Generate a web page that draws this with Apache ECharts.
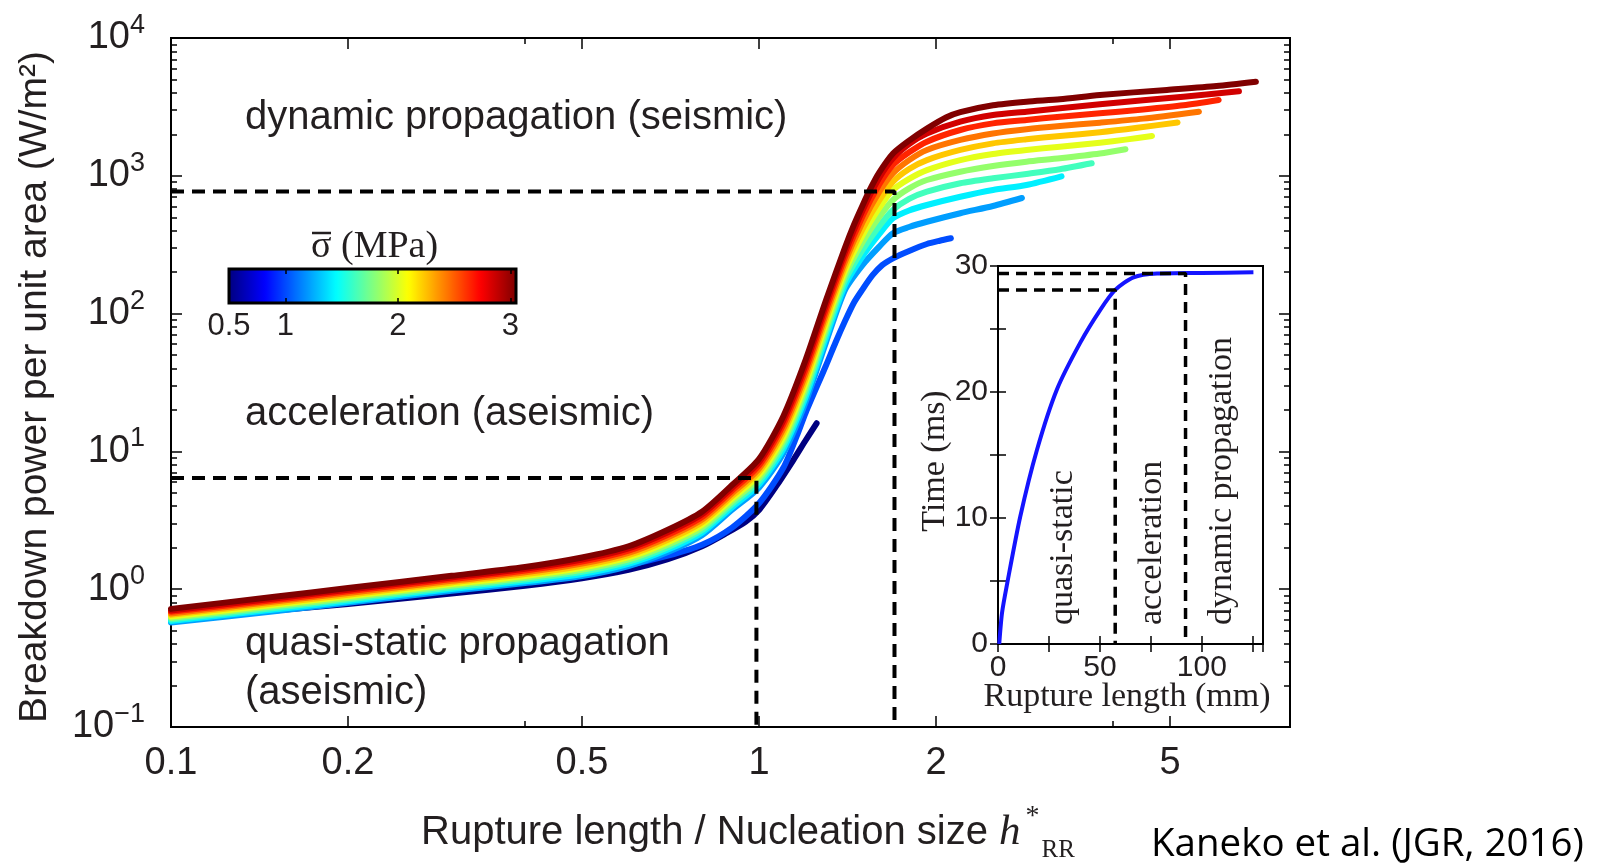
<!DOCTYPE html>
<html>
<head>
<meta charset="utf-8">
<script src="https://cdn.jsdelivr.net/npm/echarts@6/dist/echarts.min.js"></script>
<style>
  html, body { margin: 0; padding: 0; background: #fff; }
  #chart { width: 1597px; height: 865px; }
</style>
</head>
<body>
<div id="chart"></div>
<script>
// mean normal stress of each run (MPa), same order as the curves below
const sigmas = [0.5, 1.0, 1.2, 1.4, 1.6, 1.8, 2.0, 2.2, 2.4, 2.6, 2.8, 3.0];

// [rupture length / h*, breakdown power (W/m2)]
const s050 = [[0.1,0.6],[0.15,0.7],[0.2,0.78],[0.3,0.93],[0.4,1.06],[0.5,1.2],[0.6,1.38],[0.7,1.65],[0.8,2.05],[0.88,2.55],[0.95,3.1],[1.0,3.76],[1.07,5.6],[1.144,8.66],[1.2,12],[1.253,16]];
const s100 = [[0.1,0.62],[0.15,0.76],[0.2,0.87],[0.3,1.06],[0.4,1.2],[0.5,1.33],[0.6,1.5],[0.7,1.75],[0.8,2.1],[0.9,2.8],[1.0,4.2],[1.1,7.6],[1.16,13],[1.2,19],[1.3,42],[1.35,62],[1.4,88],[1.45,120],[1.5,150],[1.56,190],[1.62,225],[1.69,252],[1.8,285],[1.93,320],[2.03,338],[2.12,352]];
const s120 = [[0.1,0.573],[0.15,0.693],[0.2,0.796],[0.3,0.975],[0.4,1.108],[0.5,1.246],[0.6,1.472],[0.7,1.86],[0.8,2.46],[0.9,3.77],[1.0,5.46],[1.1,9.67],[1.2,22.7],[1.3,61.8],[1.4,148],[1.5,225],[1.6,305],[1.69,383],[1.8,425],[1.93,464],[2.2,535],[2.5,604],[2.8,690]];
const s140 = [[0.1,0.588],[0.15,0.712],[0.2,0.818],[0.3,1.003],[0.4,1.141],[0.5,1.29],[0.6,1.527],[0.7,1.939],[0.8,2.573],[0.9,3.94],[1.0,5.76],[1.1,10.4],[1.2,24.6],[1.3,66.8],[1.4,160],[1.5,260],[1.6,375],[1.69,492],[1.8,560],[1.93,614],[2.2,705],[2.5,789],[2.85,857],[3.27,990]];
const s160 = [[0.1,0.603],[0.15,0.731],[0.2,0.84],[0.3,1.03],[0.4,1.176],[0.5,1.335],[0.6,1.585],[0.7,2.02],[0.8,2.686],[0.9,4.13],[1.0,6.07],[1.1,11.1],[1.2,26.6],[1.3,72.3],[1.4,173],[1.5,290],[1.6,430],[1.69,565],[1.8,680],[1.93,767],[2.2,882],[2.5,959],[2.85,1031],[3.25,1115],[3.68,1232]];
const s180 = [[0.1,0.618],[0.15,0.751],[0.2,0.864],[0.3,1.059],[0.4,1.211],[0.5,1.382],[0.6,1.644],[0.7,2.106],[0.8,2.807],[0.9,4.33],[1.0,6.41],[1.1,11.9],[1.2,28.8],[1.3,78.1],[1.4,188],[1.5,330],[1.6,500],[1.69,667],[1.8,810],[1.93,932],[2.2,1071],[2.5,1178],[2.85,1266],[3.25,1340],[3.8,1450],[4.2,1560]];
const s200 = [[0.1,0.634],[0.15,0.771],[0.2,0.888],[0.3,1.089],[0.4,1.248],[0.5,1.43],[0.6,1.706],[0.7,2.195],[0.8,2.935],[0.9,4.53],[1.0,6.75],[1.1,12.7],[1.2,31.1],[1.3,84.5],[1.4,203],[1.5,370],[1.6,580],[1.69,789],[1.8,950],[1.93,1100],[2.2,1300],[2.5,1440],[2.85,1540],[3.25,1626],[3.8,1740],[4.2,1830],[4.66,1945]];
const s220 = [[0.1,0.651],[0.15,0.792],[0.2,0.913],[0.3,1.119],[0.4,1.286],[0.5,1.481],[0.6,1.769],[0.7,2.287],[0.8,3.062],[0.9,4.74],[1.0,7.12],[1.1,13.7],[1.2,33.6],[1.3,91.4],[1.4,219],[1.5,410],[1.6,660],[1.69,906],[1.8,1120],[1.93,1300],[2.2,1540],[2.5,1720],[2.85,1840],[3.25,1945],[3.8,2070],[4.4,2230],[5.15,2440]];
const s240 = [[0.1,0.667],[0.15,0.813],[0.2,0.938],[0.3,1.15],[0.4,1.325],[0.5,1.533],[0.6,1.835],[0.7,2.384],[0.8,3.201],[0.9,4.96],[1.0,7.51],[1.1,14.6],[1.2,36.4],[1.3,98.9],[1.4,237],[1.5,460],[1.6,760],[1.69,1043],[1.8,1300],[1.93,1540],[2.2,1820],[2.5,2030],[2.85,2180],[3.25,2300],[3.8,2430],[4.5,2600],[5.6,2920]];
const s260 = [[0.1,0.685],[0.15,0.834],[0.2,0.965],[0.3,1.183],[0.4,1.366],[0.5,1.586],[0.6,1.904],[0.7,2.484],[0.8,3.343],[0.9,5.2],[1.0,7.92],[1.1,15.7],[1.2,39.3],[1.3,107],[1.4,257],[1.5,510],[1.6,860],[1.69,1198],[1.8,1480],[1.93,1770],[2.2,2150],[2.5,2400],[2.85,2540],[3.25,2685],[3.8,2840],[4.5,3030],[5.27,3250],[6.05,3550]];
const s280 = [[0.1,0.70],[0.15,0.857],[0.2,0.992],[0.3,1.216],[0.4,1.408],[0.5,1.642],[0.6,1.976],[0.7,2.589],[0.8,3.493],[0.9,5.45],[1.0,8.34],[1.1,16.8],[1.2,42.6],[1.3,116],[1.4,278],[1.5,560],[1.6,960],[1.69,1340],[1.8,1700],[1.93,2030],[2.2,2470],[2.5,2760],[2.85,2920],[3.25,3090],[3.8,3300],[4.5,3530],[5.27,3750],[6.55,4100]];
const s300 = [[0.1,0.72],[0.15,0.88],[0.2,1.02],[0.3,1.25],[0.4,1.45],[0.5,1.7],[0.6,2.05],[0.7,2.7],[0.8,3.65],[0.9,5.7],[1.0,8.8],[1.1,18],[1.2,46],[1.3,125],[1.4,300],[1.45,440],[1.5,610],[1.55,820],[1.6,1050],[1.69,1450],[1.8,1800],[1.93,2200],[2.08,2650],[2.2,2900],[2.5,3250],[2.85,3450],[3.25,3590],[3.8,3860],[4.94,4200],[6.0,4480],[7.0,4820]];
const curves = [s050, s100, s120, s140, s160, s180, s200, s220, s240, s260, s280, s300];

// dashed phase boundaries in the main panel
const boundDynamic = [[0.1, 770], [1.7, 770], [1.7, 0.1]];
const boundAccel = [[0.1, 6.4], [0.99, 6.4], [0.99, 0.1]];

// inset: time (ms) against rupture length (mm)
const insetLength = [0.6, 2, 4.5, 10.9, 19.1, 28.9, 40.3, 50.1, 57.5, 66.5, 78, 100, 125.3];
const insetTime = [0, 2.5, 4.8, 10.1, 15.4, 20.2, 23.9, 26.5, 28.1, 29.1, 29.4, 29.45, 29.5];
const insetBoundA = [[0, 28.1], [57.5, 28.1], [57.5, 0]];
const insetBoundB = [[0, 29.4], [92, 29.4], [92, 0]];

// tick positions
const xMajorTicks = [0.1, 0.2, 0.5, 1, 2, 5];
const xMinorTicks = [0.4, 4];
const yMajorTicks = [0.1, 1, 10, 100, 1000, 10000];
const yMinorTicks = [0.2, 0.3, 0.4, 0.5, 0.6, 0.7, 0.8, 0.9, 2, 3, 4, 5, 6, 7, 8, 9,
  20, 30, 40, 50, 60, 70, 80, 90, 200, 300, 400, 500, 600, 700, 800, 900,
  2000, 3000, 4000, 5000, 6000, 7000, 8000, 9000];
const cbarLabels = [0.5, 1, 2, 3];
const cbarTicks = [1, 2, 3];

const ink = '#231f20';
const sans = '"Liberation Sans", Arial, Helvetica, sans-serif';
const serif = '"Liberation Serif", "Times New Roman", serif';

function jet(f) {
  const c = v => Math.round(255 * Math.min(1, Math.max(0, v)));
  return 'rgb(' + c(1.5 - Math.abs(4 * f - 3)) + ',' + c(1.5 - Math.abs(4 * f - 2)) + ',' + c(1.5 - Math.abs(4 * f - 1)) + ')';
}
const sigmaColor = s => jet((s - 0.5) / 2.5);

const tickLine = { color: '#000', width: 1.5 };

// axis that only draws inward ticks (no line, no labels)
function tickOnly(base, values, len) {
  return Object.assign({
    axisLine: { show: false },
    splitLine: { show: false },
    axisLabel: { show: false },
    axisTick: { inside: true, length: len, customValues: values, lineStyle: tickLine }
  }, base);
}

const mainX = { type: 'log', gridIndex: 0, min: 0.1, max: 8 };
const mainY = { type: 'log', gridIndex: 0, min: 0.1, max: 10000 };

const chart = echarts.init(document.getElementById('chart'), null, { renderer: 'canvas', width: 1597, height: 865 });

const option = {
  animation: false,
  backgroundColor: '#fff',
  textStyle: { fontFamily: sans, color: ink },
  grid: [
    { left: 171, top: 38, width: 1119, height: 689, show: true, borderColor: '#000', borderWidth: 2, backgroundColor: 'transparent', outerBoundsMode: 'none' },
    { left: 998, top: 266, width: 265, height: 378, show: true, borderColor: '#000', borderWidth: 2, backgroundColor: '#fff', outerBoundsMode: 'none' },
    { left: 229, top: 269, width: 287, height: 34, show: true, borderColor: '#000', borderWidth: 3, backgroundColor: 'transparent', z: 10, outerBoundsMode: 'none' }
  ],
  visualMap: {
    type: 'continuous',
    orient: 'horizontal',
    min: 0.5,
    max: 3,
    seriesIndex: [],
    left: 229,
    top: 269,
    itemWidth: 34,
    itemHeight: 287,
    padding: 0,
    calculable: false,
    hoverLink: false,
    text: null,
    inRange: { color: [0, 0.125, 0.25, 0.375, 0.5, 0.625, 0.75, 0.875, 1].map(jet) }
  },
  xAxis: [
    Object.assign({}, mainX, {
      position: 'bottom',
      axisLine: { show: false },
      splitLine: { show: false },
      axisTick: { inside: true, length: 11, customValues: xMajorTicks, lineStyle: tickLine },
      axisLabel: { customValues: xMajorTicks, margin: 18, fontSize: 38, color: ink, formatter: v => String(+(+v).toPrecision(3)) }
    }),
    tickOnly(Object.assign({ position: 'bottom' }, mainX), xMinorTicks, 6),
    tickOnly(Object.assign({ position: 'top' }, mainX), xMajorTicks, 11),
    tickOnly(Object.assign({ position: 'top' }, mainX), xMinorTicks, 6),
    {
      type: 'value', gridIndex: 1, min: 0, max: 130, interval: 25, position: 'bottom',
      axisLine: { show: false }, splitLine: { show: false },
      axisTick: { inside: true, length: 8, lineStyle: tickLine },
      axisLabel: { fontSize: 30, margin: 9, color: ink, formatter: v => (v % 50 === 0 ? String(v) : '') }
    },
    {
      type: 'value', gridIndex: 1, min: 0, max: 130, interval: 25, position: 'top',
      axisLine: { show: false }, splitLine: { show: false }, axisLabel: { show: false },
      axisTick: { inside: true, length: 8, lineStyle: tickLine }
    },
    {
      type: 'value', gridIndex: 2, min: 0.5, max: 3.05, position: 'bottom', z: 10,
      axisLine: { show: false }, splitLine: { show: false },
      axisTick: { inside: true, length: 5, customValues: cbarTicks, lineStyle: tickLine },
      axisLabel: { customValues: cbarLabels, margin: 8, fontSize: 31, color: ink }
    },
    tickOnly({ type: 'value', gridIndex: 2, min: 0.5, max: 3.05, position: 'top', z: 10 }, cbarTicks, 5)
  ],
  yAxis: [
    Object.assign({}, mainY, {
      position: 'left',
      axisLine: { show: false },
      splitLine: { show: false },
      axisTick: { inside: true, length: 11, customValues: yMajorTicks, lineStyle: tickLine },
      axisLabel: {
        customValues: yMajorTicks,
        margin: 26,
        color: ink,
        formatter: v => {
          const e = Math.round(Math.log10(v));
          return '{b|10}{s|' + (e < 0 ? '\u2212' + (-e) : e) + '}';
        },
        rich: {
          b: { fontSize: 38, lineHeight: 52, verticalAlign: 'middle', fontFamily: sans, color: ink },
          s: { fontSize: 27, lineHeight: 27, verticalAlign: 'top', fontFamily: sans, color: ink }
        }
      }
    }),
    tickOnly(Object.assign({ position: 'left' }, mainY), yMinorTicks, 6),
    tickOnly(Object.assign({ position: 'right' }, mainY), yMajorTicks, 11),
    tickOnly(Object.assign({ position: 'right' }, mainY), yMinorTicks, 6),
    {
      type: 'value', gridIndex: 1, min: 0, max: 30, interval: 5, position: 'left',
      axisLine: { show: false }, splitLine: { show: false },
      axisTick: { inside: true, length: 8, lineStyle: tickLine },
      axisLabel: { fontSize: 30, margin: 10, color: ink, formatter: v => (v % 10 === 0 ? String(v) : '') }
    },
    {
      type: 'value', gridIndex: 1, min: 0, max: 30, interval: 5, position: 'right',
      axisLine: { show: false }, splitLine: { show: false }, axisLabel: { show: false },
      axisTick: { inside: true, length: 8, lineStyle: tickLine }
    },
    { type: 'value', gridIndex: 2, min: 0, max: 1, show: false }
  ],
  series: [
    ...curves.map((pts, i) => ({
      type: 'line',
      xAxisIndex: 0,
      yAxisIndex: 0,
      data: pts,
      symbol: 'none',
      smooth: 0.25,
      silent: true,
      z: 2,
      lineStyle: { color: sigmaColor(sigmas[i]), width: 6, cap: 'round', join: 'round' }
    })),
    ...[boundDynamic, boundAccel].map(pts => ({
      type: 'line', xAxisIndex: 0, yAxisIndex: 0, data: pts, symbol: 'none', silent: true, z: 3,
      lineStyle: { color: '#000', width: 4, type: [13, 8] }
    })),
    {
      type: 'line', xAxisIndex: 4, yAxisIndex: 4,
      data: insetLength.map((l, i) => [l, insetTime[i]]),
      symbol: 'none', smooth: 0.25, silent: true, z: 3,
      lineStyle: { color: '#1414ff', width: 4 }
    },
    ...[insetBoundA, insetBoundB].map(pts => ({
      type: 'line', xAxisIndex: 4, yAxisIndex: 4, data: pts, symbol: 'none', silent: true, z: 4,
      lineStyle: { color: '#000', width: 3.5, type: [11, 7] }
    }))
  ],
  graphic: [
    {
      type: 'text', x: 35, y: 387, rotation: Math.PI / 2, z: 100,
      style: { text: 'Breakdown power per unit area (W/m\u00b2)', fontSize: 39, fontFamily: sans, fill: ink,
        align: 'center', textAlign: 'center', verticalAlign: 'middle', textVerticalAlign: 'middle' }
    },
    {
      type: 'text', x: 421, y: 833, z: 100,
      style: {
        text: '{a|Rupture length / Nucleation size }{h|h}{s|*}{r|RR}',
        align: 'left', textAlign: 'left', verticalAlign: 'middle', textVerticalAlign: 'middle',
        rich: {
          a: { fontSize: 40, lineHeight: 60, verticalAlign: 'middle', fontFamily: sans, fill: ink, color: ink },
          h: { fontSize: 43, lineHeight: 60, verticalAlign: 'middle', fontFamily: serif, fontStyle: 'italic', fill: ink, color: ink },
          s: { fontSize: 28, lineHeight: 28, verticalAlign: 'top', fontFamily: serif, fill: ink, color: ink, padding: [0, 2, 0, 5] },
          r: { fontSize: 25, lineHeight: 25, verticalAlign: 'bottom', fontFamily: serif, fill: ink, color: ink }
        }
      }
    },
    {
      type: 'text', x: 1151, y: 845, z: 100,
      style: { text: 'Kaneko et al. (JGR, 2016)', fontSize: 38.5, fontFamily: '"Open Sans", "Noto Sans", sans-serif', fill: '#000',
        align: 'left', textAlign: 'left', verticalAlign: 'middle', textVerticalAlign: 'middle' }
    },
    ...[
      ['dynamic propagation (seismic)', 118],
      ['acceleration (aseismic)', 414],
      ['quasi-static propagation', 644],
      ['(aseismic)', 693]
    ].map(([t, y]) => ({
      type: 'text', x: 245, y: y, z: 100,
      style: { text: t, fontSize: 40, fontFamily: sans, fill: ink,
        align: 'left', textAlign: 'left', verticalAlign: 'middle', textVerticalAlign: 'middle' }
    })),
    {
      type: 'text', x: 311, y: 247, z: 100,
      style: { text: '\u03c3 (MPa)', fontSize: 38, fontFamily: serif, fill: ink,
        align: 'left', textAlign: 'left', verticalAlign: 'middle', textVerticalAlign: 'middle' }
    },
    {
      type: 'line', z: 100,
      shape: { x1: 312, y1: 233, x2: 331, y2: 233 },
      style: { stroke: ink, lineWidth: 2.5 }
    },
    {
      type: 'text', x: 935, y: 461, rotation: Math.PI / 2, z: 100,
      style: { text: 'Time (ms)', fontSize: 34, fontFamily: serif, fill: ink,
        align: 'center', textAlign: 'center', verticalAlign: 'middle', textVerticalAlign: 'middle' }
    },
    {
      type: 'text', x: 1127, y: 697, z: 100,
      style: { text: 'Rupture length (mm)', fontSize: 34, fontFamily: serif, fill: ink,
        align: 'center', textAlign: 'center', verticalAlign: 'middle', textVerticalAlign: 'middle' }
    },
    ...[
      ['quasi-static', 1063],
      ['acceleration', 1152],
      ['dynamic propagation', 1222]
    ].map(([t, x]) => ({
      type: 'text', x: x, y: 625, rotation: Math.PI / 2, z: 100,
      style: { text: t, fontSize: 34, fontFamily: serif, fill: ink,
        align: 'left', textAlign: 'left', verticalAlign: 'middle', textVerticalAlign: 'middle' }
    }))
  ]
};

chart.setOption(option);
</script>
</body>
</html>
